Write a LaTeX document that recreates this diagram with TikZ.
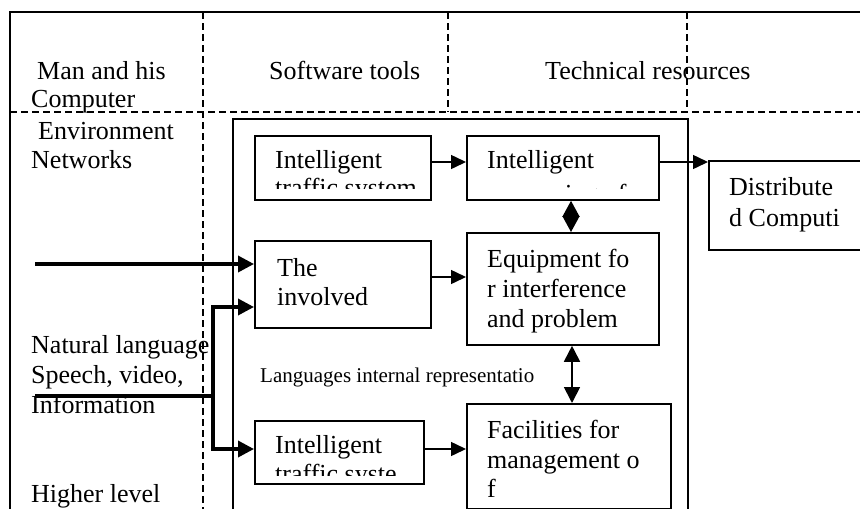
\documentclass[tikz,border=0pt]{standalone}
\usepackage{fontspec}
\setmainfont{Liberation Serif}
\usetikzlibrary{arrows.meta}
\newcommand\txtL{\fontsize{26}{28}\selectfont}
\newcommand\txtS{\fontsize{21}{23}\selectfont}
\begin{document}
\begin{tikzpicture}[x=1pt,y=-1pt,
  lbl/.style={anchor=base west,inner sep=0pt,font=\txtL},
  slbl/.style={anchor=base west,inner sep=0pt,font=\txtS},
  boxn/.style={draw,line width=1.8pt,anchor=north west,inner sep=0pt},
  framen/.style={draw,line width=1.5pt,anchor=north west,inner sep=0pt},
  dline/.style={line width=1.5pt,dash pattern=on 7pt off 4pt},
  thinarrow/.style={line width=1.5pt,-{Triangle[length=15pt,width=14pt]}},
  thickarrow/.style={line width=3.5pt,-{Triangle[length=16pt,width=16pt]}},
  thickline/.style={line width=3.5pt},
  diamondarrow/.style={line width=1.5pt,{Triangle[length=16pt,width=17pt]}-{Triangle[length=16pt,width=17pt]}},
  dblarrow/.style={line width=1.8pt,{Triangle[length=16pt,width=16pt]}-{Triangle[length=16pt,width=16pt]}}]
\useasboundingbox (0,0) rectangle (860,509);
\clip (0,0) rectangle (860,509);
\fill[white] (0,0) rectangle (860,509);

% texts outside boxes
\node[lbl] (man1) at (37,79) {Man and his};
\node[lbl] (man2) at (31,107) {Computer};
\node[lbl] (env) at (38,139) {Environment};
\node[lbl] (net) at (31,168) {Networks};
\node[lbl] (sw) at (269,79) {Software tools};
\node[lbl] (tech) at (545,79) {Technical resources};
\node[lbl] (nat1) at (31,353) {Natural language};
\node[lbl] (nat2) at (31,383) {Speech, video,};
\node[lbl] (nat3) at (31,413) {Information};
\node[lbl] (high) at (31,502) {Higher level};
\node[slbl] (lang) at (260,382) {Languages internal representatio};

% frame and dashed grid
\coordinate (o1) at (10,520);
\coordinate (o2) at (10,12);
\coordinate (o3) at (870,12);
\draw[line width=1.5pt] (o1) -- (o2) -- (o3);
\coordinate (h1) at (10,112);
\coordinate (h2) at (870,112);
\draw[dline] (h1) -- (h2);
\coordinate (v1a) at (203,12);
\coordinate (v1b) at (203,520);
\draw[dline] (v1a) -- (v1b);
\coordinate (v2a) at (448,12);
\coordinate (v2b) at (448,112);
\draw[dline] (v2a) -- (v2b);
\coordinate (v3a) at (687,12);
\coordinate (v3b) at (687,112);
\draw[dline] (v3a) -- (v3b);

\node[framen,minimum width=455pt,minimum height=402pt] (inner) at (232,118) {};

% boxes
\node[boxn,minimum width=176pt,minimum height=64pt] (b1) at (254,135) {};
\node[boxn,minimum width=192pt,minimum height=64pt] (b2) at (466,135) {};
\node[boxn,minimum width=170pt,minimum height=89pt] (dist) at (708,160) {};
\node[boxn,minimum width=176pt,minimum height=87pt] (b3) at (254,240) {};
\node[boxn,minimum width=192pt,minimum height=112pt] (eq) at (466,232) {};
\node[boxn,minimum width=169pt,minimum height=63pt] (b4) at (254,420) {};
\node[boxn,minimum width=204pt,minimum height=105pt] (fac) at (466,403) {};

% box texts
\begin{scope}
\clip (254,135) rectangle (430,188);
\node[lbl] (b1t1) at (275,168) {Intelligent};
\node[lbl] (b1t2) at (275,196) {traffic system};
\end{scope}
\begin{scope}
\clip (466,135) rectangle (658,188.5);
\node[lbl] (b2t1) at (487,168) {Intelligent};
\node[lbl] (b2t2) at (487,202) {processing of};
\end{scope}
\node[lbl] (d1) at (729,195) {Distribute};
\node[lbl] (d2) at (729,226) {d Computi};
\node[lbl] (b3t1) at (277,276) {The};
\node[lbl] (b3t2) at (277,305) {involved};
\node[lbl] (e1) at (487,267) {Equipment fo};
\node[lbl] (e2) at (487,297) {r interference};
\node[lbl] (e3) at (487,327) {and problem};
\node[lbl] (f1) at (487,438) {Facilities for};
\node[lbl] (f2) at (487,468) {management o};
\node[lbl] (f3) at (487,497) {f};
\begin{scope}
\clip (254,420) rectangle (423,475);
\node[lbl] (b4t1) at (275,453) {Intelligent};
\node[lbl] (b4t2) at (275,482) {traffic syste};
\end{scope}

% connectors
\coordinate (r162) at (0,162);
\coordinate (r277) at (0,277);
\coordinate (r449) at (0,449);
\coordinate (r264) at (0,264);
\coordinate (r307) at (0,307);
\coordinate (cx1) at (571,0);
\coordinate (cx2) at (572,0);
\draw[thinarrow] (b1.east |- r162) -- (b2.west |- r162);
\draw[thinarrow] (b2.east |- r162) -- (dist.west |- r162);
\draw[diamondarrow] (cx1 |- b2.south) -- (cx1 |- eq.north);
\draw[thinarrow] (b3.east |- r277) -- (eq.west |- r277);
\draw[dblarrow] (cx2 |- eq.south) -- (cx2 |- fac.north);
\draw[thinarrow] (b4.east |- r449) -- (fac.west |- r449);

\coordinate (s1) at (35,264);
\coordinate (s2) at (35,396);
\coordinate (j) at (213,396);
\draw[thickarrow] (s1) -- (b3.west |- r264);
\draw[thickline] (s2) -- (j);
\draw[thickarrow] (j) |- (b3.west |- r307);
\draw[thickarrow] (j) |- (b4.west |- r449);
\end{tikzpicture}
\end{document}
